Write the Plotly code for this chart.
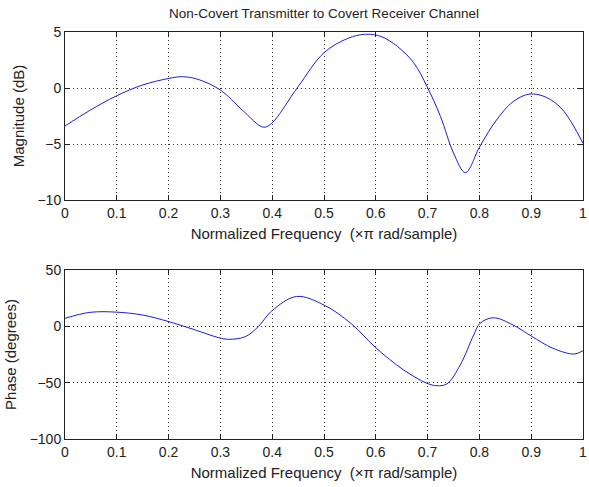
import plotly.graph_objects as go

# Magnitude response (dB) vs normalized frequency
mag_freq = [0, 0.048, 0.099, 0.15, 0.201, 0.227, 0.257, 0.3, 0.342, 0.383, 0.399, 0.45, 0.5,
            0.546, 0.58, 0.61, 0.642, 0.674, 0.699, 0.725, 0.75, 0.773, 0.801, 0.833, 0.865,
            0.897, 0.929, 0.961, 1.0]
mag_db = [-3.39, -2.0, -0.71, 0.27, 0.86, 1.01, 0.77, -0.18, -1.96, -3.5, -3.15, 0.12, 3.15,
          4.43, 4.8, 4.6, 3.7, 2.2, 0.12, -2.56, -5.8, -7.56, -5.2, -2.86, -1.22,
          -0.54, -0.83, -1.96, -4.94]

# Phase response (degrees)
ph_freq = [0, 0.048, 0.099, 0.15, 0.201, 0.252, 0.297, 0.316, 0.348, 0.373, 0.399, 0.447, 0.5,
           0.552, 0.6, 0.654, 0.699, 0.718, 0.7375, 0.763, 0.789, 0.801, 0.827, 0.865, 0.9,
           0.942, 0.983, 1.0]
ph_deg = [7.1, 12.4, 12.6, 10.0, 4.1, -3.3, -10.1, -11.5, -9.2, -0.3, 13.6, 26.5, 18.9,
          2.6, -19.0, -38.8, -50.6, -52.7, -51.0, -34.3, -7.7, 2.6, 7.6, 1.2, -8.6,
          -19.5, -24.6, -21.6]

x_ticks = [0, 0.1, 0.2, 0.3, 0.4, 0.5, 0.6, 0.7, 0.8, 0.9, 1]
x_tick_text = ["0", "0.1", "0.2", "0.3", "0.4", "0.5", "0.6", "0.7", "0.8", "0.9", "1"]
mag_ticks = [-10, -5, 0, 5]
ph_ticks = [-100, -50, 0, 50]

title_text = "Non-Covert Transmitter to Covert Receiver Channel"
x_title = "Normalized Frequency  (×π rad/sample)"

FONT = "Liberation Sans, Arial, sans-serif"
LINE = "#1c1cd6"

fig = go.Figure()
fig.add_trace(go.Scatter(x=mag_freq, y=mag_db, mode="lines",
                         line=dict(color=LINE, width=1, shape="spline", smoothing=1.0),
                         xaxis="x", yaxis="y", showlegend=False, hoverinfo="skip"))
fig.add_trace(go.Scatter(x=ph_freq, y=ph_deg, mode="lines",
                         line=dict(color=LINE, width=1, shape="spline", smoothing=1.0),
                         xaxis="x2", yaxis="y2", showlegend=False, hoverinfo="skip"))

axis_common = dict(showline=True, linecolor="#222222", linewidth=1, mirror="ticks", ticks="inside", ticklen=5,
                   tickcolor="#222222", showgrid=True, gridcolor="#333333", griddash="1px,3px", gridwidth=1,
                   zeroline=False, ticklabeloverflow="allow",
                   tickfont=dict(family=FONT, size=14, color="#222222"))

fig.update_layout(
    width=589, height=487,
    margin=dict(l=65, r=2, t=32, b=48),
    paper_bgcolor="white", plot_bgcolor="white",
    font=dict(family=FONT, size=14, color="#222222"),
    title=dict(text=title_text, x=0.5, xanchor="center", xref="paper", y=1 - 13 / 487, yanchor="middle",
               font=dict(family=FONT, size=13.5, color="#222222")),
    xaxis=dict(domain=[0, 1], range=[0, 1], tickvals=x_ticks, ticktext=x_tick_text, anchor="y",
               title=dict(text=x_title, standoff=8, font=dict(size=15)), **axis_common),
    yaxis=dict(domain=[239 / 407, 1], range=[-10, 5], tickvals=mag_ticks, anchor="x",
               title=dict(text="Magnitude (dB)", standoff=9, font=dict(size=15)), **axis_common),
    xaxis2=dict(domain=[0, 1], range=[0, 1], tickvals=x_ticks, ticktext=x_tick_text, anchor="y2",
                title=dict(text=x_title, standoff=8, font=dict(size=15)), **axis_common),
    yaxis2=dict(domain=[0, 169 / 407], range=[-100, 50], tickvals=ph_ticks, anchor="x2",
                title=dict(text="Phase (degrees)", standoff=9, font=dict(size=15)), **axis_common),
)

fig.write_html("out.html")
